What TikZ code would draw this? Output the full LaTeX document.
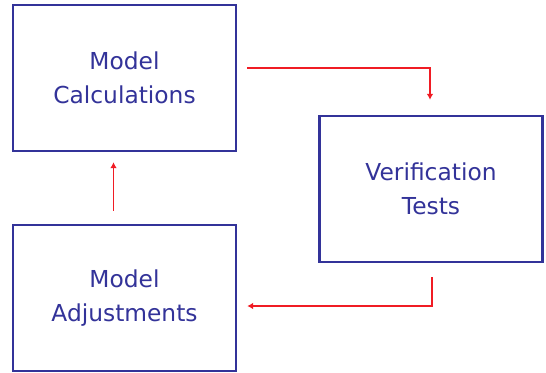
\documentclass[tikz,border=0pt]{standalone}
\usepackage{fontspec}
\setmainfont{DejaVu Sans}
\usetikzlibrary{arrows.meta,calc}
\definecolor{boxblue}{HTML}{333399}
\definecolor{flowred}{HTML}{F01C24}
\begin{document}
\begin{tikzpicture}[x=0.75pt,y=-0.75pt,
  stage/.style={draw=boxblue,line width=1.8pt,fill=white,text=boxblue,
    minimum width=223*0.75pt,minimum height=146*0.75pt,inner sep=0pt,
    align=center,font=\fontsize{17.5}{25.5}\selectfont},
  flow/.style={draw=flowred,line width=1.3pt,
    -{Latex[length=4.5pt,width=5pt]}}]
\useasboundingbox (0,0) rectangle (546,372);
\fill[white] (0,0) rectangle (546,372);
\node[stage] (calc) at (124.5,78)  {Model\\Calculations};
\node[stage] (ver)  at (431,189)   {Verification\\Tests};
\node[stage] (adj)  at (124.5,298) {Model\\Adjustments};
\draw[flow] ($(calc.east)+(10,-10)$) -| ($(ver.north)+(-1,-15)$);
\draw[flow] ($(ver.south)+(1,14)$) |- ($(adj.east)+(10,8)$);
\draw[flow] ($(adj.north)+(-11,-13)$) -- ($(calc.south)+(-11,10)$);
\end{tikzpicture}
\end{document}
